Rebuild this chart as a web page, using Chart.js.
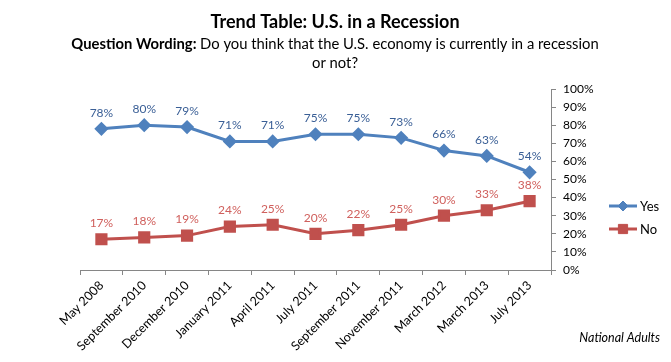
<!DOCTYPE html>
<html>
<head>
<meta charset="utf-8">
<script src="https://cdn.jsdelivr.net/npm/chart.js@4/dist/chart.umd.min.js"></script>
<style>
  html, body { margin: 0; padding: 0; background: #fff; }
  #wrap { width: 671px; height: 362px; position: relative; }
</style>
</head>
<body>
<div id="wrap"><canvas id="recessionChart"></canvas></div>
<script>
const months = ['May 2008', 'September 2010', 'December 2010', 'January 2011', 'April 2011',
  'July 2011', 'September 2011', 'November 2011', 'March 2012', 'March 2013', 'July 2013'];
const yesValues = [78, 80, 79, 71, 71, 75, 75, 73, 66, 63, 54];
const noValues = [17, 18, 19, 24, 25, 20, 22, 25, 30, 33, 38];
const yTicks = [0, 10, 20, 30, 40, 50, 60, 70, 80, 90, 100];

const FONT = 'Lato, "Open Sans", sans-serif';
const blue = '#4F81BD';
const red = '#C0504D';

// title, data labels, legend and footnote drawn on the canvas
const extras = {
  id: 'extras',
  afterDraw(chart) {
    const c = chart.ctx;
    c.save();
    c.textBaseline = 'middle';

    c.fillStyle = '#000';
    c.textAlign = 'center';
    c.font = 'bold 18px ' + FONT;
    c.fillText('Trend Table: U.S. in a Recession', 335, 22);

    const bold = 'Question Wording: ';
    const rest = 'Do you think that the U.S. economy is currently in a recession';
    const sub = '14.8px ' + FONT;
    c.font = 'bold ' + sub;
    const bw = c.measureText(bold).width;
    c.font = sub;
    const rw = c.measureText(rest).width;
    let x0 = 335 - (bw + rw) / 2;
    c.textAlign = 'left';
    c.font = 'bold ' + sub;
    c.fillText(bold, x0, 44);
    c.font = sub;
    c.fillText(rest, x0 + bw, 44);
    c.textAlign = 'center';
    c.fillText('or not?', 335, 63);

    // data labels
    c.font = '12px ' + FONT;
    const labelColors = ['#3A5F96', '#D0605D'];
    chart.data.datasets.forEach((ds, i) => {
      const meta = chart.getDatasetMeta(i);
      c.fillStyle = labelColors[i];
      meta.data.forEach((pt, j) => {
        c.fillText(ds.data[j] + '%', pt.x, pt.y - 16);
      });
    });

    // legend
    chart.data.datasets.forEach((ds, i) => {
      const y = 206 + i * 23;
      c.strokeStyle = ds.borderColor;
      c.fillStyle = ds.backgroundColor;
      c.lineWidth = 3;
      c.beginPath();
      c.moveTo(609, y);
      c.lineTo(637, y);
      c.stroke();
      c.lineWidth = 1;
      Chart.helpers.drawPoint(c, {
        pointStyle: ds.pointStyle, radius: ds.pointRadius, borderWidth: 1
      }, 623, y);
      c.fillStyle = '#000';
      c.textAlign = 'left';
      c.font = '13px ' + FONT;
      c.fillText(ds.label, 640, y + 1);
      c.textAlign = 'center';
    });

    c.fillStyle = '#000';
    c.textAlign = 'right';
    c.font = 'italic 12.5px ' + FONT;
    c.fillText('National Adults', 660, 338);
    c.restore();
  }
};

const ctx = document.getElementById('recessionChart').getContext('2d');

new Chart(ctx, {
  type: 'line',
  data: {
    labels: months,
    datasets: [
      {
        label: 'Yes',
        data: yesValues,
        borderColor: blue,
        backgroundColor: blue,
        borderWidth: 3,
        pointStyle: 'rectRot',
        pointRadius: 5,
        pointHoverRadius: 5,
        tension: 0
      },
      {
        label: 'No',
        data: noValues,
        borderColor: red,
        backgroundColor: red,
        borderWidth: 3,
        pointStyle: 'rect',
        pointRadius: 6.5,
        pointHoverRadius: 6.5,
        tension: 0
      }
    ]
  },
  options: {
    responsive: true,
    maintainAspectRatio: false,
    animation: false,
    layout: { padding: { top: 89, left: 80, right: 0, bottom: 0 } },
    plugins: {
      legend: { display: false },
      title: { display: false },
      tooltip: { enabled: false }
    },
    scales: {
      x: {
        offset: true,
        grid: { offset: true, drawOnChartArea: false, tickLength: 5, color: '#868686' },
        border: { color: '#868686' },
        ticks: {
          minRotation: 45, maxRotation: 45, autoSkip: false,
          color: '#000', font: { family: FONT, size: 12.5 }, padding: 3
        },
        afterFit(s) { s.height = 92; s.paddingLeft = 0; }
      },
      y: {
        position: 'right',
        min: 0, max: 100,
        afterBuildTicks(s) { s.ticks = yTicks.map(v => ({ value: v })); },
        grid: { drawOnChartArea: false, tickLength: 5, color: '#868686' },
        border: { color: '#868686' },
        ticks: {
          color: '#000', font: { family: FONT, size: 12 }, padding: 7,
          callback: v => v + '%'
        },
        afterFit(s) { s.width = 120; }
      }
    }
  },
  plugins: [extras]
});
</script>
</body>
</html>
